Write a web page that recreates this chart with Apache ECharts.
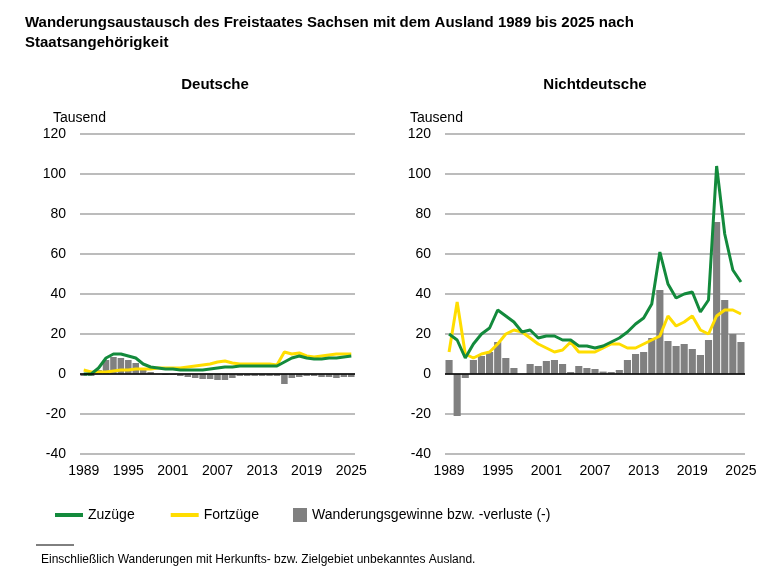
<!DOCTYPE html>
<html><head><meta charset="utf-8">
<script src="https://cdn.jsdelivr.net/npm/echarts@6/dist/echarts.min.js"></script>
<style>body{margin:0;background:#fff}#c{width:780px;height:578px}</style>
</head><body><div id="c"></div>
<script>
var years = [];
for (var y = 1989; y <= 2025; y++) years.push(String(y));

var deZu = [0,0,3,8,10,10,9,8,5,3.5,3,2.5,2.5,2,2,2,2,2.5,3,3.5,3.5,4,4,4,4,4,4,6,8,9,8,7.5,7.5,8,8,8.5,9];
var deFort = [2,1,1,1,1.5,2,2,2.5,2.5,2.5,3,3,3,3,3.5,4,4.5,5,6,6.5,5.5,5,5,5,5,5,4.5,11,10,10.5,9,8.5,9,9.5,10,10,10];
var deSaldo = [-1,-1,2,7,8.5,8,7,5.5,2.5,1,0,-0.5,-0.5,-1,-1.5,-2,-2.5,-2.5,-3,-3,-2,-1,-1,-1,-1,-1,-1,-5,-2,-1.5,-1,-1,-1.5,-1.5,-2,-1.5,-1.5];

var ndZu = [20,17,8,15,20,23,32,29,26,21,22,18,19,19,17,17,14,14,13,14,16,18,21,25,28,35,61,45,38,40,41,31,37,104,70,52,46];
var ndFort = [11,36,10,8,10,11,15,20,22,21,18,15,13,11,12,16,11,11,11,13,15,15,13,13,15,17,19,29,24,26,29,22,20,29,32,32,30];
var ndSaldo = [7,-21,-2,7,9,11,16,8,3,0,5,4,6.5,7,5,1,4,3,2.5,1.2,1,2,7,10,11,18,42,16.5,14,15,12.5,9.5,17,76,37,20,16];

var chart = echarts.init(document.getElementById("c"));
var font = "Arial, Liberation Sans";
var txt = {color: "#000", fontFamily: font, fontSize: 14, fontWeight: "normal"};
var bold = {color: "#000", fontFamily: font, fontSize: 15, fontWeight: "bold"};

function xAx(i) {
    return {
        type: "category", gridIndex: i, data: years,
        axisTick: {show: false}, axisLine: {show: false},
        axisLabel: Object.assign({interval: 5, margin: 10}, txt)
    };
}
function yAx(i) {
    return {
        type: "value", gridIndex: i, min: -40, max: 120, interval: 20,
        axisLabel: Object.assign({margin: 14}, txt),
        splitLine: {lineStyle: {color: "#a6a6a6", width: 1.5}},
        axisLine: {show: false}, axisTick: {show: false}
    };
}
function series(i, zu, fort, saldo) {
    return [
        {name: "Wanderungsgewinne bzw. -verluste (-)", type: "bar", xAxisIndex: i, yAxisIndex: i,
         data: saldo, barCategoryGap: "12%", itemStyle: {color: "#808080"},
         markLine: {silent: true, symbol: "none", label: {show: false},
                    lineStyle: {color: "#000", type: "solid", width: 1.5}, data: [{yAxis: 0}]}},
        {name: "Fortzüge", type: "line", xAxisIndex: i, yAxisIndex: i, data: fort,
         symbol: "none", lineStyle: {color: "#ffdd00", width: 3}, itemStyle: {color: "#ffdd00"}},
        {name: "Zuzüge", type: "line", xAxisIndex: i, yAxisIndex: i, data: zu,
         symbol: "none", lineStyle: {color: "#138a3c", width: 3}, itemStyle: {color: "#138a3c"}}
    ];
}

chart.setOption({
    animation: false,
    title: [
        {text: "Wanderungsaustausch des Freistaates Sachsen mit dem Ausland 1989 bis 2025 nach\nStaatsangehörigkeit",
         left: 20, top: 8, textStyle: Object.assign({lineHeight: 20}, bold)},
        {text: "Deutsche", left: 210, top: 72, textAlign: "center", textStyle: bold},
        {text: "Nichtdeutsche", left: 590, top: 72, textAlign: "center", textStyle: bold},
        {text: "Tausend", left: 48, top: 106, textStyle: txt},
        {text: "Tausend", left: 405, top: 106, textStyle: txt},
        {text: "Einschließlich Wanderungen mit Herkunfts- bzw. Zielgebiet unbekanntes Ausland.",
         left: 36, top: 549, textStyle: {color: "#000", fontFamily: font, fontSize: 12, fontWeight: "normal"}}
    ],
    graphic: [{type: "line", shape: {x1: 36, y1: 545, x2: 74, y2: 545}, style: {stroke: "#000", lineWidth: 1}}],
    legend: [
        {left: 50, top: 503, itemGap: 36, itemWidth: 28, itemHeight: 4, icon: "rect",
         data: ["Zuzüge", "Fortzüge"], textStyle: txt},
        {left: 288, top: 503, itemWidth: 14, itemHeight: 14, icon: "rect",
         data: ["Wanderungsgewinne bzw. -verluste (-)"], textStyle: txt}
    ],
    grid: [
        {left: 80, top: 134, width: 275, height: 320},
        {left: 445, top: 134, width: 300, height: 320}
    ],
    xAxis: [xAx(0), xAx(1)],
    yAxis: [yAx(0), yAx(1)],
    series: series(0, deZu, deFort, deSaldo).concat(series(1, ndZu, ndFort, ndSaldo))
});
</script></body></html>
